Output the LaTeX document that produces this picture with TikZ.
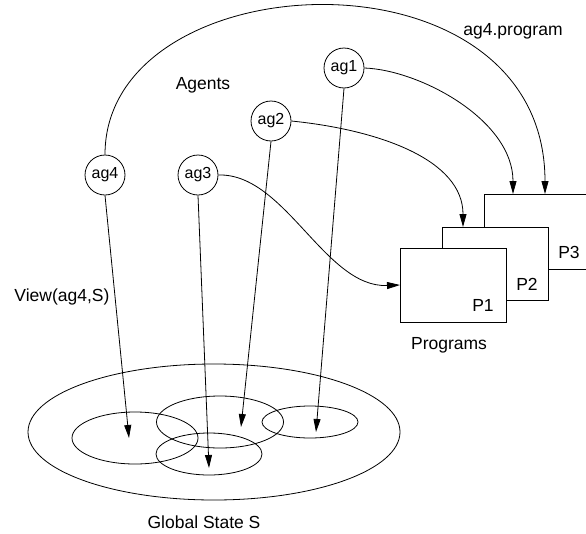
\documentclass[tikz,border=0pt]{standalone}
\usepackage{fontspec}
\setmainfont{Liberation Sans}
\usetikzlibrary{arrows.meta,shapes.geometric}
\begin{document}
\begin{tikzpicture}[x=1pt,y=-1pt,
  every node/.style={font=\fontsize{17.5}{20}\selectfont},
  agent/.style={circle,draw,line width=0.8pt,minimum size=40pt,inner sep=0pt,font=\fontsize{16}{19}\selectfont},
  prog/.style={draw,fill=white,line width=0.8pt,anchor=north west,inner sep=0pt},
  region/.style={ellipse,draw,line width=0.8pt,inner sep=0pt},
  lbl/.style={anchor=base,inner sep=0pt},
  conn/.style={line width=0.8pt,-{Triangle[length=13pt,width=7pt]}}]
\useasboundingbox (0,0) rectangle (586,533);
\clip (0,0) rectangle (586,533);

% global state and views
\node[region,minimum width=372pt,minimum height=136pt] (gs) at (214,432) {};
\node[region,minimum width=126pt,minimum height=52pt] (v4) at (135,438) {};
\node[region,minimum width=127pt,minimum height=52pt] (v2) at (220,422) {};
\node[region,minimum width=96pt,minimum height=32pt] (v1) at (310,422) {};
\node[region,minimum width=106pt,minimum height=42pt] (v3) at (209,454) {};

% programs
\node[prog,minimum width=130pt,minimum height=75pt] (p3) at (484,194) {};
\node[prog,minimum width=106pt,minimum height=73pt] (p2) at (442,227) {};
\node[prog,minimum width=106pt,minimum height=74pt] (p1) at (400,248) {};
\node[lbl] (lp1) at (483,311) {P1};
\node[lbl] (lp2) at (527,290) {P2};
\node[lbl] (lp3) at (569,258) {P3};

% agents
\node[agent] (ag1) at (344,68) {ag1};
\node[agent] (ag2) at (271,121) {ag2};
\node[agent] (ag3) at (198,175) {ag3};
\node[agent] (ag4) at (105,175) {ag4};

% labels
\node[lbl] (lagents) at (203,89) {Agents};
\node[lbl] (lprog4) at (513,35) {ag4.program};
\node[lbl] (lview) at (62,301) {View(ag4,S)};
\node[lbl] (lgs) at (204,528) {Global State S};
\node[lbl] (lprogs) at (449,349) {Programs};

% end points
\coordinate (t4) at (129,438);
\coordinate (t3) at (209,468);
\coordinate (t2) at (241,427);
\coordinate (t1) at (316,432);
\coordinate (e1) at (513,194);
\coordinate (e4) at (545,194);
\coordinate (e2) at (463,227);
\coordinate (e3) at (400,285);

% connectors to views
\draw[conn] (ag4.south) -- (t4);
\draw[conn] (ag3.south) -- (t3);
\draw[conn] (ag2.south) -- (t2);
\draw[conn] (ag1.south) -- (t1);

% connectors to programs
\draw[conn] (ag1.east) .. controls (420,70) and (513,120) .. (e1);
\draw[conn] (ag2.east) .. controls (380,130) and (463,160) .. (e2);
\draw[conn] (ag3.east) .. controls (285,173) and (325,288) .. (e3);
\draw[conn] (ag4.north) .. controls (105,-40) and (545,-60) .. (e4);
\end{tikzpicture}
\end{document}
